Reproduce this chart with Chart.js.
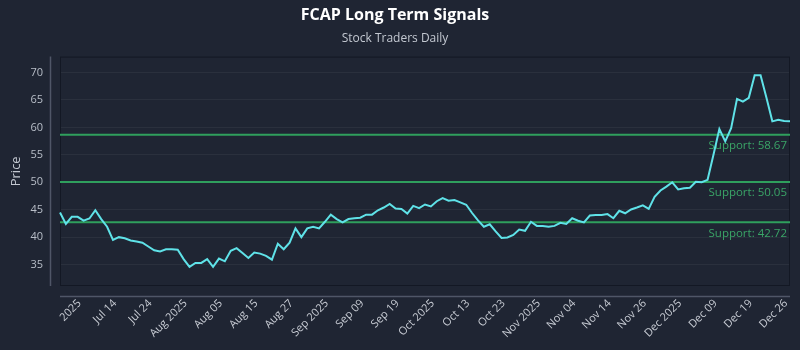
<!DOCTYPE html>
<html lang="en">
<head>
    <meta charset="UTF-8">
    <title>FCAP Long Term Signals</title>
    <script src="https://cdn.jsdelivr.net/npm/chart.js"></script>
    <style>
        body {
            margin: 0;
            background-color: #1f2533;
        }
        .wrap {
            width: 800px;
            height: 350px;
        }
    </style>
</head>
<body>
    <div class="wrap"><canvas id="signalChart"></canvas></div>
    <script>
        // values
        const prices = [
            44.5, 42.4, 43.7, 43.7, 43.0, 43.4, 44.9, 43.3, 41.9, 39.5,
            40.0, 39.8, 39.4, 39.2, 39.0, 38.3, 37.6, 37.4, 37.8, 37.8,
            37.7, 36.0, 34.6, 35.3, 35.3, 36.0, 34.6, 36.1, 35.6, 37.5,
            38.0, 37.1, 36.2, 37.2, 37.0, 36.6, 35.9, 38.8, 37.8, 39.0,
            41.6, 40.0, 41.6, 41.9, 41.6, 42.8, 44.1, 43.3, 42.7, 43.3,
            43.45, 43.55, 44.1, 44.1, 44.9, 45.4, 46.05, 45.2, 45.15, 44.3,
            45.7, 45.3, 45.95, 45.6, 46.55, 47.1, 46.65, 46.75, 46.35, 45.9,
            44.4, 43.05, 41.9, 42.35, 41.05, 39.85, 39.95, 40.4, 41.4, 41.15,
            42.8, 42.05, 42.05, 41.9, 42.05, 42.6, 42.4, 43.45, 43.0, 42.7,
            43.95, 44.05, 44.05, 44.2, 43.45, 44.8, 44.35, 45.05, 45.4, 45.8,
            45.15, 47.35, 48.5, 49.2, 50.0, 48.7, 48.9, 49.0, 50.1, 50.0,
            50.45, 55.0, 59.7, 57.45, 59.85, 65.2, 64.7, 65.4, 69.5, 69.5,
            65.4, 61.1, 61.4, 61.15, 61.1
        ];
        const tickLabels = [
            '2025', 'Jul 14', 'Jul 24', 'Aug 2025', 'Aug 05', 'Aug 15', 'Aug 27',
            'Sep 2025', 'Sep 09', 'Sep 19', 'Oct 2025', 'Oct 13', 'Oct 23',
            'Nov 2025', 'Nov 04', 'Nov 14', 'Nov 26', 'Dec 2025', 'Dec 09',
            'Dec 19', 'Dec 26'
        ];
        const tickStart = 4;
        const tickEvery = 6;
        const supportLevels = [58.67, 50.05, 42.72];
        const yTicks = [35, 40, 45, 50, 55, 60, 65, 70];

        const labels = prices.map((p, i) => {
            let k = (i - tickStart) / tickEvery;
            return Number.isInteger(k) && k >= 0 ? tickLabels[k] : '';
        });

        const frame = {
            id: 'frame',
            beforeDraw(chart) {
                let ctx = chart.ctx;
                ctx.save();
                ctx.fillStyle = '#1f2533';
                ctx.fillRect(0, 0, chart.width, chart.height);
                ctx.restore();
            },
            beforeDatasetsDraw(chart) {
                let {ctx, chartArea: a, scales: {y}} = chart;
                ctx.save();
                // plot border
                ctx.strokeStyle = '#131824';
                ctx.lineWidth = 1;
                ctx.strokeRect(a.left + 0.5, a.top + 0.5, a.right - a.left - 1, a.bottom - a.top - 1);
                // axis lines, set off from the plot
                ctx.strokeStyle = '#4f5667';
                ctx.lineWidth = 1.5;
                ctx.beginPath();
                ctx.moveTo(a.left - 9.5, a.top);
                ctx.lineTo(a.left - 9.5, a.bottom);
                ctx.moveTo(a.left, a.bottom + 10.5);
                ctx.lineTo(a.right, a.bottom + 10.5);
                ctx.stroke();
                // support levels
                supportLevels.forEach(v => {
                    let py = y.getPixelForValue(v);
                    ctx.strokeStyle = '#2f9f5d';
                    ctx.lineWidth = 2;
                    ctx.beginPath();
                    ctx.moveTo(a.left, py);
                    ctx.lineTo(a.right, py);
                    ctx.stroke();
                    ctx.fillStyle = '#3aa567';
                    ctx.font = '11.5px "Open Sans"';
                    ctx.textAlign = 'right';
                    ctx.textBaseline = 'middle';
                    ctx.fillText('Support: ' + v.toFixed(2), a.right - 3, py + 11);
                });
                ctx.restore();
            }
        };

        new Chart(document.getElementById('signalChart'), {
            type: 'line',
            data: {
                labels: labels,
                datasets: [{
                    label: 'FCAP',
                    data: prices,
                    borderColor: '#5fe2e8',
                    borderWidth: 2,
                    pointRadius: 0,
                    tension: 0,
                    fill: false
                }]
            },
            options: {
                responsive: true,
                maintainAspectRatio: false,
                animation: false,
                layout: {
                    padding: { left: 0, right: 10, top: 0, bottom: 0 }
                },
                plugins: {
                    legend: { display: false },
                    tooltip: { enabled: false },
                    title: {
                        display: true,
                        text: 'FCAP Long Term Signals',
                        color: '#ffffff',
                        font: { family: 'Open Sans', size: 16, weight: 'bold' },
                        padding: { top: 6, bottom: 6 }
                    },
                    subtitle: {
                        display: true,
                        text: 'Stock Traders Daily',
                        color: '#c3c8d1',
                        font: { family: 'Open Sans', size: 12 },
                        padding: { top: 0, bottom: 11 }
                    }
                },
                scales: {
                    x: {
                        offset: false,
                        afterFit(scale) {
                            scale.height = 64;
                            scale.paddingLeft = 0;
                            scale.paddingRight = 0;
                        },
                        grid: { display: false, drawTicks: false },
                        border: { display: false },
                        ticks: {
                            autoSkip: false,
                            maxRotation: 45,
                            minRotation: 45,
                            padding: 11,
                            labelOffset: -4,
                            color: '#c8ccd4',
                            font: { family: 'Open Sans', size: 11 },
                            callback: (v, i) => labels[i]
                        }
                    },
                    y: {
                        min: 31.1,
                        max: 72.9,
                        afterFit(scale) { scale.width = 60; },
                        afterBuildTicks(scale) {
                            scale.ticks = yTicks.map(v => ({ value: v }));
                        },
                        grid: {
                            color: 'rgba(255,255,255,0.05)',
                            drawTicks: false
                        },
                        border: { display: false },
                        title: {
                            display: true,
                            text: 'Price',
                            color: '#c3c8d1',
                            font: { family: 'Open Sans', size: 13 },
                            padding: { top: 8, bottom: 0 }
                        },
                        ticks: {
                            padding: 17,
                            color: '#b8bec8',
                            font: { family: 'Open Sans', size: 11 }
                        }
                    }
                }
            },
            plugins: [frame]
        });
    </script>
</body>
</html>
